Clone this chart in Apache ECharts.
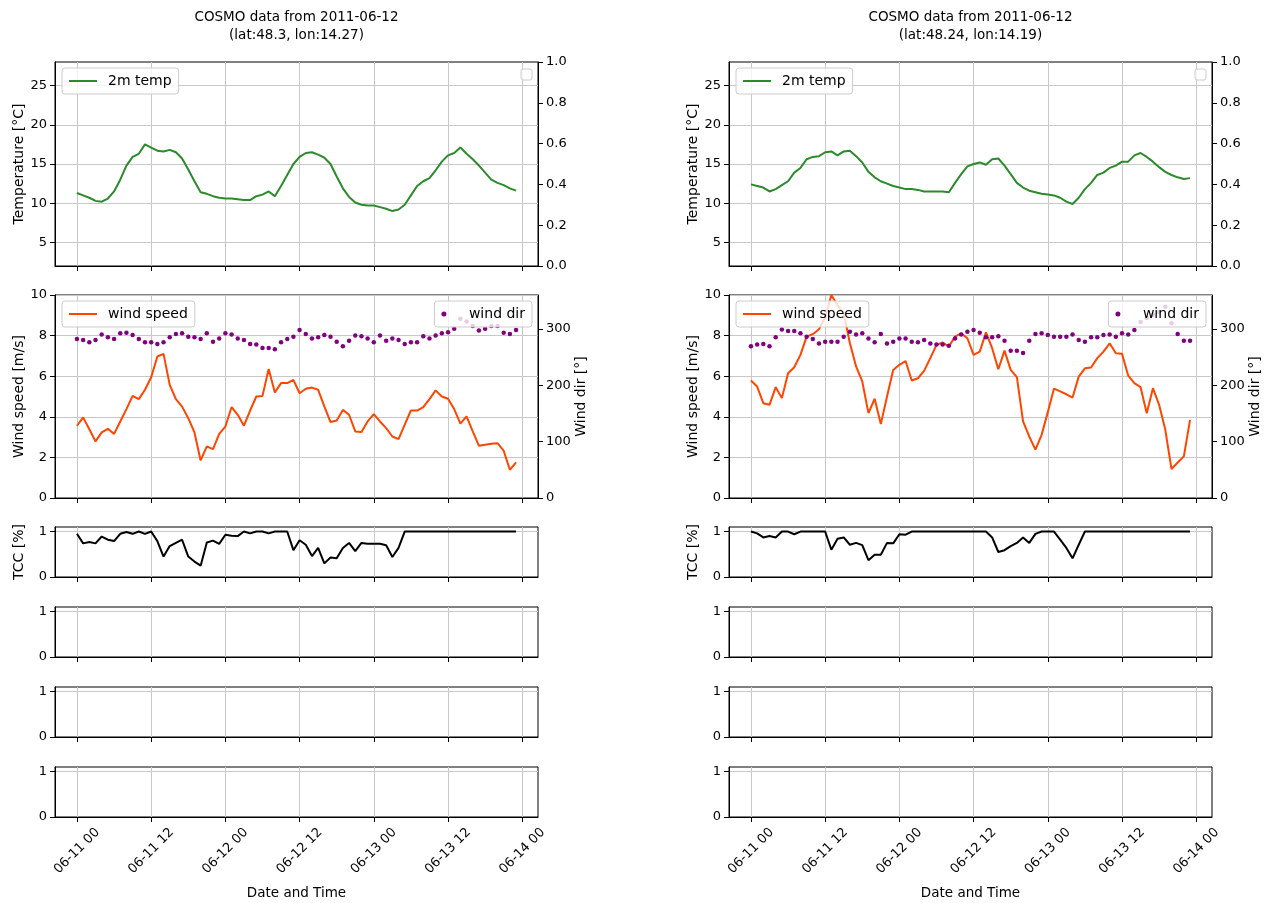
<!DOCTYPE html>
<html>
<head>
<meta charset="utf-8">
<script src="https://cdn.jsdelivr.net/npm/echarts@6/dist/echarts.min.js"></script>
<style>
html,body{margin:0;padding:0;background:#ffffff;}
#chart{width:1276px;height:903px;}
</style>
</head>
<body>
<div id="chart"></div>
<script>
// ---------- DATA ----------
// hourly time steps, hours since 2011-06-11 00:00
const hours = Array.from({length: 72}, (_, i) => i);
const tickHours = [0, 12, 24, 36, 48, 60, 72];
const tickLabels = ['06-11 00', '06-11 12', '06-12 00', '06-12 12', '06-13 00', '06-13 12', '06-14 00'];

const titlesA = ['COSMO data from 2011-06-12', '(lat:48.3, lon:14.27)'];
const titlesB = ['COSMO data from 2011-06-12', '(lat:48.24, lon:14.19)'];

const tempA = [11.3,11.0,10.7,10.3,10.2,10.6,11.5,13.0,14.8,15.9,
  16.3,17.5,17.1,16.7,16.6,16.8,16.5,15.7,14.3,12.8,
  11.4,11.2,10.9,10.7,10.6,10.6,10.5,10.4,10.4,10.9,
  11.1,11.5,10.9,12.2,13.6,15.0,15.9,16.4,16.5,16.2,
  15.8,15.0,13.4,11.9,10.8,10.1,9.8,9.7,9.7,9.5,
  9.3,9.0,9.2,9.8,11.0,12.2,12.8,13.2,14.2,15.3,
  16.1,16.4,17.1,16.3,15.6,14.8,13.9,13.0,12.6,12.3,
  11.9,11.6];
const tempB = [12.4,12.2,12.0,11.5,11.8,12.3,12.8,13.9,14.5,15.6,
  15.9,16.0,16.5,16.6,16.1,16.6,16.7,16.0,15.2,14.0,
  13.3,12.8,12.5,12.2,12.0,11.8,11.8,11.7,11.5,11.5,
  11.5,11.5,11.4,12.6,13.7,14.7,15.0,15.2,14.9,15.6,
  15.7,14.8,13.7,12.6,12.0,11.6,11.4,11.2,11.1,11.0,
  10.7,10.2,9.9,10.7,11.8,12.6,13.6,13.9,14.5,14.8,
  15.3,15.3,16.1,16.4,15.9,15.3,14.6,14.0,13.6,13.3,
  13.1,13.2];

const windSpeedA = [3.56,3.97,3.39,2.79,3.23,3.41,3.16,3.77,4.38,5.03,
  4.87,5.33,5.95,6.97,7.10,5.57,4.87,4.50,3.93,3.23,
  1.85,2.54,2.41,3.16,3.52,4.48,4.10,3.56,4.31,5.00,
  5.03,6.36,5.20,5.66,5.66,5.82,5.16,5.38,5.44,5.33,
  4.51,3.74,3.82,4.34,4.10,3.28,3.25,3.77,4.13,3.77,
  3.44,3.03,2.90,3.61,4.31,4.31,4.48,4.87,5.30,5.00,
  4.89,4.38,3.66,4.02,3.28,2.57,2.62,2.67,2.70,2.33,
  1.39,1.75];
const windSpeedB = [5.79,5.49,4.67,4.59,5.46,4.92,6.15,6.44,7.05,7.95,
  8.07,8.31,8.90,10.0,9.50,9.10,7.62,6.48,5.74,4.18,
  4.89,3.64,5.00,6.31,6.56,6.75,5.79,5.90,6.26,6.89,
  7.54,7.66,7.46,7.95,8.11,7.87,7.05,7.21,8.16,7.38,
  6.34,7.26,6.31,5.95,3.77,3.03,2.38,3.11,4.23,5.39,
  5.25,5.11,4.95,5.98,6.39,6.43,6.89,7.21,7.62,7.13,
  7.10,6.03,5.66,5.46,4.18,5.41,4.59,3.36,1.43,1.75,
  2.05,3.85];

const windDirA = [282,280,276,280,290,285,282,292,293,289,
  282,276,276,273,276,285,291,292,286,285,
  282,292,277,283,292,290,283,280,273,272,
  266,266,264,276,282,286,298,291,283,285,
  289,286,277,269,279,288,287,283,276,288,
  279,283,280,273,276,276,287,283,288,292,
  294,300,318,313,305,297,300,305,305,293,
  291,298];
const windDirB = [269,272,273,269,285,299,296,296,292,286,
  282,274,277,277,277,286,295,290,292,283,
  276,291,274,277,283,283,277,276,280,274,
  272,272,270,283,290,295,298,293,285,285,
  287,279,261,261,257,279,291,292,289,286,
  286,286,290,280,277,285,285,289,290,286,
  292,290,298,312,319,325,330,339,310,291,
  279,279];

const tccA = [0.95,0.74,0.77,0.74,0.89,0.82,0.79,0.95,0.99,0.95,
  1.00,0.95,1.00,0.79,0.45,0.68,0.75,0.82,0.45,0.34,
  0.25,0.76,0.80,0.73,0.93,0.91,0.90,1.00,0.96,1.00,
  1.00,0.96,1.00,1.00,1.00,0.59,0.81,0.71,0.46,0.64,
  0.30,0.43,0.41,0.64,0.75,0.57,0.75,0.73,0.73,0.73,
  0.70,0.44,0.64,1.00,1.00,1.00,1.00,1.00,1.00,1.00,
  1.00,1.00,1.00,1.00,1.00,1.00,1.00,1.00,1.00,1.00,
  1.00,1.00];
const tccB = [1.00,0.96,0.87,0.90,0.87,1.00,1.00,0.94,1.00,1.00,
  1.00,1.00,1.00,0.60,0.84,0.87,0.71,0.75,0.70,0.37,
  0.49,0.49,0.75,0.74,0.94,0.93,1.00,1.00,1.00,1.00,
  1.00,1.00,1.00,1.00,1.00,1.00,1.00,1.00,1.00,0.87,
  0.55,0.59,0.68,0.75,0.87,0.75,0.95,1.00,1.00,1.00,
  0.82,0.64,0.41,0.71,1.00,1.00,1.00,1.00,1.00,1.00,
  1.00,1.00,1.00,1.00,1.00,1.00,1.00,1.00,1.00,1.00,
  1.00,1.00];

const tempTicks = [5, 10, 15, 20, 25];
const windDirTicks = [0, 100, 200, 300];
const unitTicks = [0, 1];

// ---------- LAYOUT ----------
const FONT = 'DejaVu Sans';
const FS = 13;
const FS_NAME = 14;
const FS_LEG = 14;
const CW = 1276;
const PW = 483;
const columns = [
  {left: 55, titles: titlesA, temp: tempA, ws: windSpeedA, wd: windDirA, tcc: tccA},
  {left: 729, titles: titlesB, temp: tempB, ws: windSpeedB, wd: windDirB, tcc: tccB}
];
const rows = [
  {top: 62, h: 204},
  {top: 295, h: 203},
  {top: 527, h: 50},
  {top: 607, h: 50},
  {top: 687, h: 50},
  {top: 767, h: 50}
];
const GRIDC = '#c8c8c8';
const XMIN = -3.55, XMAX = 74.55;

const grid = [], xAxis = [], yAxis = [], series = [], legend = [], graphic = [];

function pairs(vals) { return hours.map((h, i) => [h, vals[i]]); }

function yBase(gi, extra) {
  return Object.assign({
    type: 'value', gridIndex: gi,
    axisLine: {show: true, onZero: false, lineStyle: {color: '#000', width: 1}},
    axisTick: {show: true, inside: false, length: 5, lineStyle: {color: '#000', width: 1}},
    axisLabel: {show: true, color: '#000', fontSize: FS, fontFamily: FONT, margin: 8},
    splitLine: {show: false},
    nameLocation: 'middle', nameRotate: 90,
    nameTextStyle: {color: '#000', fontSize: FS_NAME, fontFamily: FONT}
  }, extra);
}

columns.forEach((col, c) => {
  rows.forEach((r, ri) => {
    grid.push({
      left: col.left, top: r.top, width: PW, height: r.h,
      show: true, borderColor: '#000', borderWidth: 1, backgroundColor: 'transparent',
      containLabel: false, outerBoundsMode: 'none'
    });
    const gi = c * 6 + ri;
    const isBottom = ri === 5;
    xAxis.push({
      type: 'value', gridIndex: gi, min: XMIN, max: XMAX,
      axisLine: {show: true, onZero: false, lineStyle: {color: '#000', width: 1}},
      axisTick: {show: true, customValues: tickHours, length: 5, lineStyle: {color: '#000', width: 1}},
      axisLabel: {
        show: isBottom, customValues: tickHours,
        formatter: v => tickLabels[tickHours.indexOf(v)] || '',
        rotate: 45, align: 'center', verticalAlign: 'middle', margin: 34,
        color: '#000', fontSize: FS, fontFamily: FONT
      },
      splitLine: {show: true, lineStyle: {color: GRIDC, width: 1}},
      name: isBottom ? 'Date and Time' : '',
      nameLocation: 'middle', nameGap: 69,
      nameTextStyle: {color: '#000', fontSize: 13.5, fontFamily: FONT}
    });
  });

  const g0 = c * 6;
  const y0 = c * 8;
  // temperature panel axes
  yAxis.push(yBase(g0, {
    min: 2, max: 28, name: 'Temperature [°C]', nameGap: 29,
    axisTick: {show: true, customValues: tempTicks, length: 5, lineStyle: {color: '#000'}},
    axisLabel: {show: true, customValues: tempTicks, color: '#000', fontSize: FS, fontFamily: FONT, margin: 8},
    splitLine: {show: true, lineStyle: {color: GRIDC, width: 1}}
  }));
  yAxis.push(yBase(g0, {
    min: 0, max: 1, interval: 0.2, position: 'right',
    axisLabel: {show: true, color: '#000', fontSize: FS, fontFamily: FONT, margin: 8, formatter: v => v.toFixed(1)}
  }));
  // wind panel axes
  yAxis.push(yBase(g0 + 1, {
    min: 0, max: 10, interval: 2, name: 'Wind speed [m/s]', nameGap: 29,
    splitLine: {show: true, lineStyle: {color: GRIDC, width: 1}}
  }));
  yAxis.push(yBase(g0 + 1, {
    min: 0, max: 360, position: 'right', name: 'Wind dir [°]', nameGap: 33,
    axisTick: {show: true, customValues: windDirTicks, length: 5, lineStyle: {color: '#000'}},
    axisLabel: {show: true, customValues: windDirTicks, color: '#000', fontSize: FS, fontFamily: FONT, margin: 8}
  }));
  // TCC + empty panels
  for (let k = 2; k < 6; k++) {
    yAxis.push(yBase(g0 + k, {
      min: 0, max: 1.1, name: k === 2 ? 'TCC [%]' : '', nameGap: 29,
      axisTick: {show: true, customValues: unitTicks, length: 5, lineStyle: {color: '#000'}},
      axisLabel: {show: true, customValues: unitTicks, color: '#000', fontSize: FS, fontFamily: FONT, margin: 8},
      splitLine: {show: true, lineStyle: {color: GRIDC, width: 1}}
    }));
  }

  series.push({
    name: '2m temp', type: 'line', xAxisIndex: g0, yAxisIndex: y0,
    data: pairs(col.temp), showSymbol: false, symbol: 'none',
    lineStyle: {color: '#2b8a2b', width: 2}, itemStyle: {color: '#2b8a2b'}, z: 3
  });
  series.push({
    name: 'wind speed', type: 'line', xAxisIndex: g0 + 1, yAxisIndex: y0 + 2,
    data: pairs(col.ws), showSymbol: false, symbol: 'none',
    lineStyle: {color: '#ff4500', width: 2}, itemStyle: {color: '#ff4500'}, z: 3
  });
  series.push({
    name: 'wind dir', type: 'scatter', xAxisIndex: g0 + 1, yAxisIndex: y0 + 3,
    data: pairs(col.wd), symbolSize: 4.5,
    itemStyle: {color: '#800080', opacity: 1}, z: 4
  });
  series.push({
    name: 'TCC', type: 'line', xAxisIndex: g0 + 2, yAxisIndex: y0 + 4,
    data: pairs(col.tcc), showSymbol: false, symbol: 'none',
    lineStyle: {color: '#000', width: 2}, itemStyle: {color: '#000'}, z: 3
  });

  const legBase = {
    orient: 'horizontal', selectedMode: false,
    backgroundColor: 'rgba(255,255,255,0.8)', borderColor: '#cccccc', borderWidth: 1, borderRadius: 3,
    padding: [6, 7, 6, 7], itemGap: 0,
    textStyle: {color: '#000', fontSize: FS_LEG, fontFamily: FONT, padding: [0, 0, 0, 6]}, z: 10
  };
  legend.push(Object.assign({}, legBase, {
    data: ['2m temp'], left: col.left + 7, top: rows[0].top + 6,
    icon: 'rect', itemWidth: 28, itemHeight: 2
  }));
  legend.push(Object.assign({}, legBase, {
    data: ['wind speed'], left: col.left + 7, top: rows[1].top + 6,
    icon: 'rect', itemWidth: 28, itemHeight: 2
  }));
  legend.push(Object.assign({}, legBase, {
    data: ['wind dir'], right: CW - (col.left + PW) + 6, top: rows[1].top + 6,
    icon: 'circle', itemWidth: 28, itemHeight: 5
  }));

  // empty legend box (top right of temperature panel)
  graphic.push({
    type: 'rect', z: 10,
    shape: {x: col.left + PW - 17, y: rows[0].top + 7, width: 11, height: 11, r: 2},
    style: {fill: 'rgba(255,255,255,0.8)', stroke: '#cccccc', lineWidth: 1}
  });
  // titles
  graphic.push({
    type: 'text', z: 10, x: col.left + PW / 2, y: 17,
    style: {text: col.titles[0], align: 'center', verticalAlign: 'middle', fontSize: 13.5, fontFamily: FONT, fill: '#000'}
  });
  graphic.push({
    type: 'text', z: 10, x: col.left + PW / 2, y: 35,
    style: {text: col.titles[1], align: 'center', verticalAlign: 'middle', fontSize: 13.5, fontFamily: FONT, fill: '#000'}
  });
});

const chart = echarts.init(document.getElementById('chart'), null, {renderer: 'canvas'});
chart.setOption({
  animation: false,
  backgroundColor: '#ffffff',
  textStyle: {fontFamily: FONT},
  grid: grid, xAxis: xAxis, yAxis: yAxis, series: series, legend: legend, graphic: graphic
});
</script>
</body>
</html>
